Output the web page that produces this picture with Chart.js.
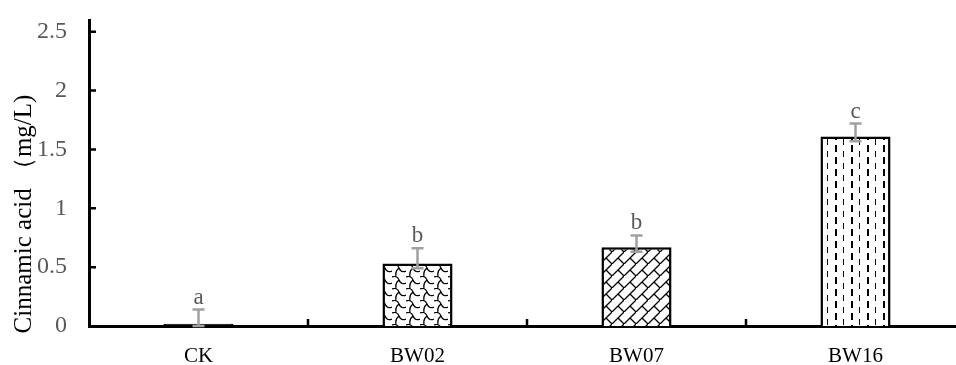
<!DOCTYPE html>
<html>
<head>
<meta charset="utf-8">
<script src="https://cdn.jsdelivr.net/npm/chart.js@4"></script>
<style>
  html, body { margin: 0; padding: 0; background: #fff; overflow: hidden; }
  #wrap { width: 965px; height: 365px; }
</style>
</head>
<body>
<div id="wrap"><canvas id="chart"></canvas></div>
<script>
// Data
const categories = ['CK', 'BW02', 'BW07', 'BW16'];
const means = [0.02, 0.53, 0.67, 1.61];
const errUp = [0.12, 0.13, 0.10, 0.11];
const errDown = [0.02, 0.04, 0.04, 0.04];
const letters = ['a', 'b', 'b', 'c'];
const yTicks = [0, 0.5, 1, 1.5, 2, 2.5];
const yTitle = 'Cinnamic acid （mg/L)';

const serif = '"Liberation Serif", "Times New Roman", serif';
const grey = '#595959';

// fill patterns
function makeTile(w, h, draw) {
  const c = document.createElement('canvas');
  c.width = w; c.height = h;
  const g = c.getContext('2d');
  g.fillStyle = '#fff';
  g.fillRect(0, 0, w, h);
  g.strokeStyle = '#000';
  g.fillStyle = '#000';
  draw(g);
  return g.createPattern(c, 'repeat');
}

const scalePattern = makeTile(14, 12, g => {
  g.lineWidth = 1.3;
  g.beginPath();
  g.moveTo(0, 1);
  g.quadraticCurveTo(5, -1, 7, 4);
  g.quadraticCurveTo(9, 9, 14, 7);
  g.moveTo(7, 4);
  g.quadraticCurveTo(3, 7, 4, 12);
  g.stroke();
});

const brickPattern = makeTile(12, 12, g => {
  g.lineWidth = 1.3;
  g.beginPath();
  g.moveTo(-1, 13); g.lineTo(13, -1);
  g.moveTo(6, 6); g.lineTo(12, 12);
  g.stroke();
});

const dashPattern = makeTile(16, 12, g => {
  g.fillRect(3, 1, 2, 7);
  g.fillRect(11, 7, 1, 5);
  g.fillRect(11, 0, 1, 1);
});

const fills = ['#000', scalePattern, brickPattern, dashPattern];

// error bars + letters
const errorBars = {
  id: 'errorBars',
  afterDatasetsDraw(chart) {
    const ctx = chart.ctx;
    const y = chart.scales.y;
    const meta = chart.getDatasetMeta(0);
    ctx.save();
    meta.data.forEach((bar, i) => {
      const top = y.getPixelForValue(means[i] + errUp[i]);
      const bot = y.getPixelForValue(means[i] - errDown[i]);
      ctx.strokeStyle = '#a0a0a0';
      ctx.lineWidth = 2.5;
      ctx.beginPath();
      ctx.moveTo(bar.x, top); ctx.lineTo(bar.x, bot);
      ctx.moveTo(bar.x - 6, top); ctx.lineTo(bar.x + 6, top);
      ctx.moveTo(bar.x - 6, bot); ctx.lineTo(bar.x + 6, bot);
      ctx.stroke();
      ctx.fillStyle = grey;
      ctx.font = '23px ' + serif;
      ctx.textAlign = 'center';
      ctx.textBaseline = 'alphabetic';
      ctx.fillText(letters[i], bar.x, top - 6);
    });
    ctx.restore();
  }
};

// excel-like inward ticks and the y title
const axisDecor = {
  id: 'axisDecor',
  afterDraw(chart) {
    const ctx = chart.ctx;
    const x = chart.scales.x;
    const y = chart.scales.y;
    const area = chart.chartArea;
    ctx.save();
    ctx.strokeStyle = '#000';
    ctx.lineWidth = 2.5;
    ctx.beginPath();
    yTicks.forEach(v => {
      if (v === 0) return;
      const py = y.getPixelForValue(v);
      ctx.moveTo(area.left, py); ctx.lineTo(area.left + 7, py);
    });
    for (let i = 1; i < categories.length; i++) {
      const px = (x.getPixelForValue(i - 1) + x.getPixelForValue(i)) / 2;
      ctx.moveTo(px, area.bottom); ctx.lineTo(px, area.bottom - 7);
    }
    ctx.stroke();

    ctx.translate(24, 214);
    ctx.rotate(-Math.PI / 2);
    ctx.fillStyle = '#000';
    ctx.font = '25px ' + serif;
    ctx.textAlign = 'center';
    ctx.textBaseline = 'middle';
    ctx.fillText(yTitle, 0, 0);
    ctx.restore();
  }
};

new Chart(document.getElementById('chart'), {
  type: 'bar',
  data: {
    labels: categories,
    datasets: [{
      data: means,
      backgroundColor: fills,
      borderColor: '#000',
      borderWidth: 2.5,
      borderSkipped: 'bottom',
      categoryPercentage: 1,
      barPercentage: 0.32
    }]
  },
  options: {
    responsive: true,
    maintainAspectRatio: false,
    animation: false,
    layout: { padding: { top: 20, right: 0, left: 0, bottom: 0 } },
    plugins: {
      legend: { display: false },
      tooltip: { enabled: false }
    },
    scales: {
      x: {
        offset: true,
        grid: { display: false },
        border: { display: true, color: '#000', width: 3 },
        ticks: {
          color: '#000',
          font: { family: serif, size: 21 },
          padding: 10
        },
        afterFit(scale) {
          scale.height = 39;
          scale.paddingLeft = 0;
          scale.paddingRight = 0;
        }
      },
      y: {
        min: 0,
        max: 2.6,
        grid: { display: false },
        border: { display: true, color: '#000', width: 3 },
        afterBuildTicks(scale) {
          scale.ticks = yTicks.map(v => ({ value: v }));
        },
        ticks: {
          color: grey,
          font: { family: serif, size: 24 },
          padding: 14,
          callback: v => String(v)
        },
        afterFit(scale) {
          scale.width = 89;
          scale.paddingTop = 0;
          scale.paddingBottom = 0;
        }
      }
    }
  },
  plugins: [errorBars, axisDecor]
});
</script>
</body>
</html>
